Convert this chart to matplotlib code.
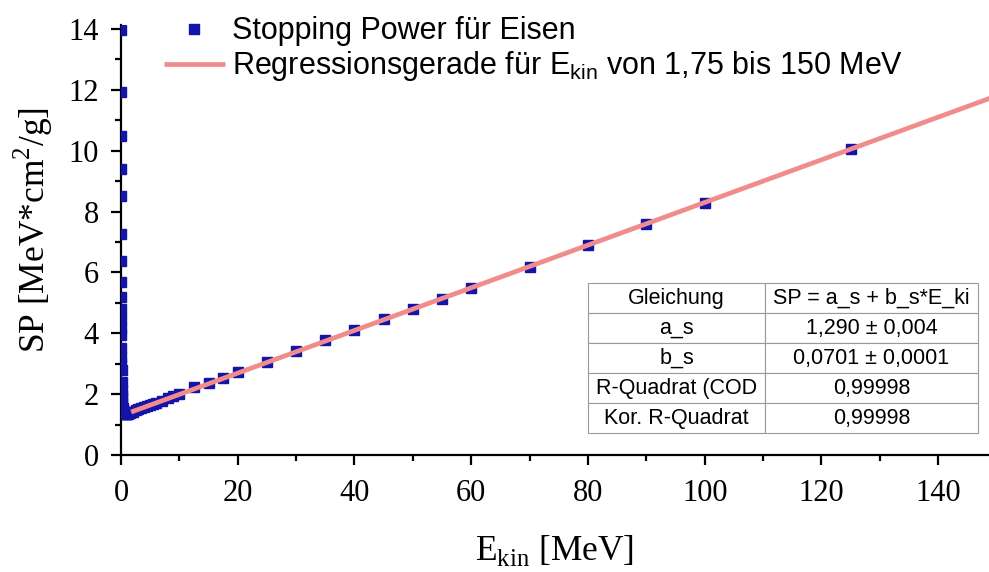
import matplotlib
matplotlib.use("Agg")
import matplotlib.pyplot as plt
from matplotlib.ticker import MultipleLocator

plt.rcParams["mathtext.fontset"] = "custom"
plt.rcParams["mathtext.rm"] = "Liberation Serif"
plt.rcParams["mathtext.sf"] = "Liberation Sans"

# Stopping power of iron vs. kinetic energy
e_kin = [0.01, 0.0125, 0.015, 0.0175, 0.02, 0.025, 0.03, 0.035, 0.04, 0.045,
         0.05, 0.055, 0.06, 0.07, 0.08, 0.09, 0.1, 0.125, 0.15, 0.175,
         0.2, 0.25, 0.3, 0.35, 0.4, 0.45, 0.5, 0.55, 0.6, 0.7,
         0.8, 0.9, 1.0, 1.25, 1.5, 1.75, 2.0, 2.5, 3.0, 3.5,
         4.0, 4.5, 5.0, 5.5, 6.0, 7.0, 8.0, 9.0, 10.0, 12.5,
         15.0, 17.5, 20.0, 25.0, 30.0, 35.0, 40.0, 45.0, 50.0, 55.0,
         60.0, 70.0, 80.0, 90.0, 100.0, 125.0]
sp = [13.97, 11.94, 10.48, 9.39, 8.51, 7.25, 6.38, 5.70, 5.20, 4.80,
      4.46, 4.18, 3.93, 3.53, 3.22, 2.98, 2.78, 2.40, 2.15, 1.97,
      1.84, 1.67, 1.56, 1.49, 1.45, 1.42, 1.40, 1.38, 1.37, 1.36,
      1.35, 1.35, 1.35, 1.36, 1.38, 1.41, 1.43, 1.47, 1.51, 1.55,
      1.58, 1.62, 1.65, 1.69, 1.72, 1.79, 1.86, 1.93, 2.00, 2.22,
      2.38, 2.54, 2.73, 3.07, 3.42, 3.77, 4.10, 4.46, 4.80, 5.13,
      5.49, 6.18, 6.89, 7.59, 8.29, 10.05]

# linear fit parameters
a_s = 1.290
b_s = 0.0701
fit_range = [1.75, 150]

table_rows = [["Gleichung", "SP = a_s + b_s*E_ki"],
              ["a_s", "1,290 ± 0,004"],
              ["b_s", "0,0701 ± 0,0001"],
              ["R-Quadrat (COD", "0,99998"],
              ["Kor. R-Quadrat", "0,99998"]]

fig = plt.figure(figsize=(9.89, 5.72), dpi=100)
ax = fig.add_axes([0.1223, 0.2045, 0.8777, 0.7517])

ax.plot(e_kin, sp, ls="none", marker="s", ms=7, color="#1414a8",
        mec="#1414a8", label="Stopping Power für Eisen", zorder=3)
fit_y = [a_s + b_s * e for e in fit_range]
ax.plot(fit_range, fit_y, color="#f08c8c", lw=3.4, solid_capstyle="butt",
        label="Regressionsgerade für E$_{\\mathsf{kin}}$ von 1,75 bis 150 MeV",
        zorder=4)

ax.set_xlim(0, 148.7)
ax.set_ylim(0, 14.13)
ax.spines["top"].set_visible(False)
ax.spines["right"].set_visible(False)
for s in ("left", "bottom"):
    ax.spines[s].set_linewidth(1.6)

ax.xaxis.set_major_locator(MultipleLocator(20))
ax.xaxis.set_minor_locator(MultipleLocator(10))
ax.yaxis.set_major_locator(MultipleLocator(2))
ax.yaxis.set_minor_locator(MultipleLocator(1))
ax.tick_params(which="major", direction="out", length=7, width=1.6)
ax.tick_params(which="minor", direction="out", length=4, width=1.6)
ax.tick_params(axis="x", pad=10)
ax.tick_params(axis="y", pad=9)
for lab in ax.get_xticklabels() + ax.get_yticklabels():
    lab.set_fontfamily("Liberation Serif")
    lab.set_fontsize(22)

ax.set_xlabel("E$_{\\mathrm{kin}}$ [MeV]", family="Liberation Serif",
              fontsize=25.5, labelpad=18)
ax.set_ylabel("SP [MeV*cm$^2$/g]", family="Liberation Serif",
              fontsize=25.5)
ax.yaxis.set_label_coords(-0.076, 0.523)

leg = ax.legend(loc="upper left", bbox_to_anchor=(0.035, 1.049), frameon=False,
                prop={"family": "Liberation Sans", "size": 22},
                handlelength=2.0, handletextpad=0.25, labelspacing=0.1,
                borderaxespad=0)

# fit result table
tab = ax.table(cellText=table_rows, colWidths=[0.204, 0.245],
               cellLoc="center", bbox=[0.538, 0.051, 0.449, 0.349])
tab.auto_set_font_size(False)
tab.set_fontsize(15.5)
for (r, c), cell in tab.get_celld().items():
    cell.set_edgecolor("#999999")
    cell.set_linewidth(0.8)
    cell.get_text().set_fontfamily("Liberation Sans")

fig.savefig("out.png", dpi=100)
